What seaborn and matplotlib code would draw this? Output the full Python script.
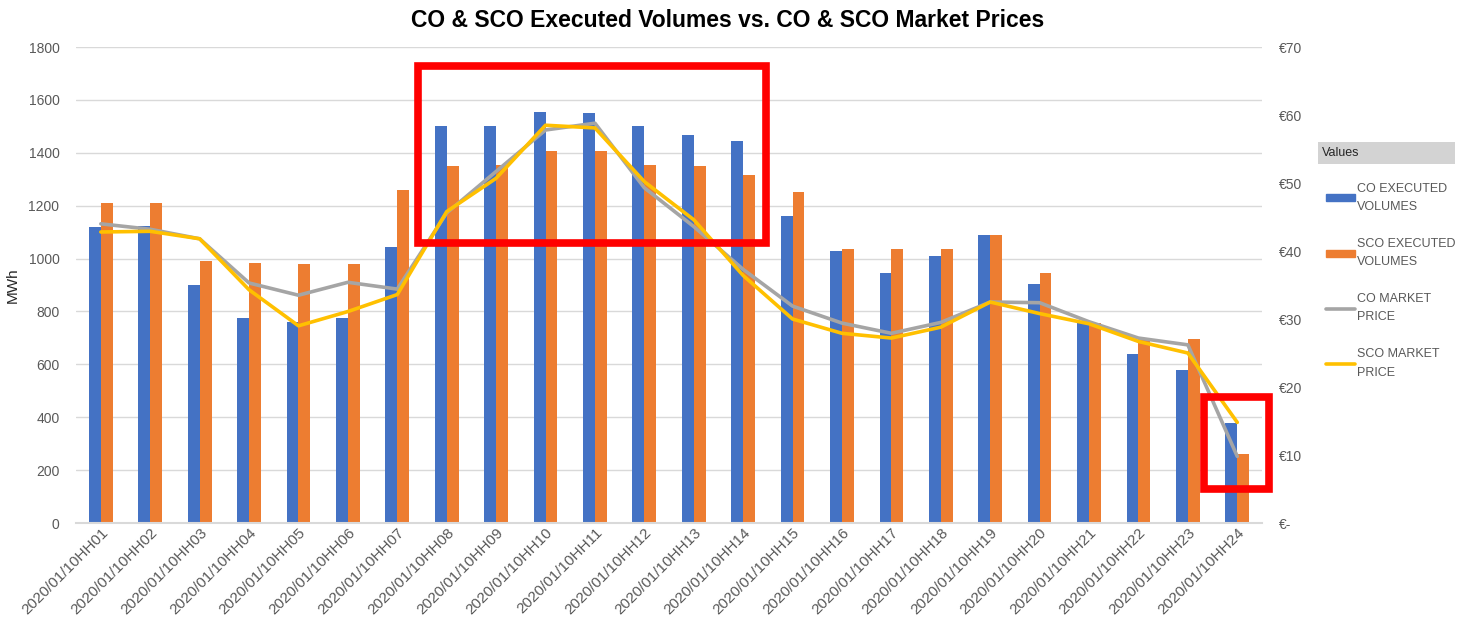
import numpy as np
import pandas as pd
import matplotlib
matplotlib.use('Agg')
import matplotlib.pyplot as plt
from matplotlib.patches import Rectangle
from matplotlib.lines import Line2D
from matplotlib.patches import Patch
import seaborn as sns

# Hours of the day (categories)
hours = [f'2020/01/10HH{h:02d}' for h in range(1, 25)]

# Executed volumes (MWh)
co_volumes = [1120, 1125, 900, 775, 760, 775, 1045, 1500, 1500, 1555, 1550, 1500,
              1468, 1445, 1160, 1028, 945, 1008, 1088, 903, 758, 640, 577, 380]
sco_volumes = [1210, 1210, 990, 985, 980, 980, 1258, 1350, 1355, 1405, 1405, 1355,
               1350, 1315, 1252, 1036, 1036, 1036, 1088, 944, 758, 695, 697, 260]

# Market prices (EUR)
co_price = [44.0, 43.2, 41.8, 35.3, 33.5, 35.4, 34.4, 45.6, 51.7, 57.8, 58.8, 49.3,
            43.6, 37.3, 31.9, 29.4, 27.9, 29.5, 32.5, 32.4, 29.6, 27.2, 26.2, 9.8]
sco_price = [42.8, 42.9, 41.8, 34.3, 29.0, 31.1, 33.6, 45.8, 50.7, 58.5, 58.1, 50.2,
             44.6, 36.4, 30.0, 27.9, 27.2, 28.8, 32.5, 30.8, 29.3, 26.7, 25.0, 14.8]

vol_df = pd.DataFrame({
    'hour': hours * 2,
    'volume': co_volumes + sco_volumes,
    'series': ['CO EXECUTED\nVOLUMES'] * 24 + ['SCO EXECUTED\nVOLUMES'] * 24,
})

sns.set_theme(style='white')
plt.rcParams['font.family'] = ['Liberation Sans', 'DejaVu Sans']

blue, orange, grey, gold = '#4472C4', '#ED7D31', '#A5A5A5', '#FFC000'
txt = '#595959'

fig = plt.figure(figsize=(14.64, 6.23), dpi=100)
ax = fig.add_axes([0.052, 0.1605, 0.81, 0.764])

sns.barplot(data=vol_df, x='hour', y='volume', hue='series', palette=[blue, orange],
            width=0.48, gap=0, saturation=1, linewidth=0, ax=ax, legend=False)
ax.set_xlim(-0.5, 23.5)
ax.set_ylim(0, 1800)
ax.set_yticks(range(0, 1801, 200))
ax.yaxis.grid(True, color='#D9D9D9', lw=1)
ax.set_axisbelow(True)
for s in ['top', 'left', 'right']:
    ax.spines[s].set_visible(False)
ax.spines['bottom'].set_color('#D9D9D9')
ax.spines['bottom'].set_linewidth(1.5)
ax.set_xlabel('')
ax.set_ylabel('MWh', fontsize=11, color='#262626', labelpad=6)
ax.tick_params(axis='y', length=0, labelsize=10, labelcolor=txt, pad=12)
ax.tick_params(axis='x', length=0, labelsize=11, labelcolor=txt, pad=2)
for lab in ax.get_xticklabels():
    lab.set_rotation(45)
    lab.set_ha('right')
    lab.set_rotation_mode('anchor')

ax2 = ax.twinx()
xs = np.arange(len(hours))
sns.lineplot(x=xs, y=co_price, color=grey, lw=2.6, ax=ax2)
sns.lineplot(x=xs, y=sco_price, color=gold, lw=2.6, ax=ax2)
ax2.set_ylim(0, 70)
ax2.set_yticks(range(0, 71, 10))
ax2.set_yticklabels(['€-'] + [f'€{v}' for v in range(10, 71, 10)])
ax2.tick_params(axis='y', length=0, labelsize=10, labelcolor=txt, pad=12)
for s in ax2.spines.values():
    s.set_visible(False)

# red highlight boxes (category index / MWh)
for (x0, x1, y0, y1) in [(6.42, 13.47, 1059, 1728), (22.33, 23.65, 129, 477)]:
    ax2.add_patch(Rectangle((x0, y0), x1 - x0, y1 - y0, transform=ax.transData,
                            fill=False, edgecolor='#FF0000', lw=5.5, zorder=10,
                            clip_on=False))

fig.suptitle('CO & SCO Executed Volumes vs. CO & SCO Market Prices',
             fontsize=16.5, fontweight='bold', x=0.497, y=0.985, color='black')

# legend with a grey "Values" header
fig.patches.append(Rectangle((0.9, 0.736), 0.094, 0.036, transform=fig.transFigure,
                             facecolor='#D3D3D3', edgecolor='none'))
fig.text(0.903, 0.754, 'Values', fontsize=9, color='#262626', va='center')
handles = [Patch(color=blue), Patch(color=orange),
           Line2D([], [], color=grey, lw=2.6), Line2D([], [], color=gold, lw=2.6)]
labels = ['CO EXECUTED\nVOLUMES', 'SCO EXECUTED\nVOLUMES', 'CO MARKET\nPRICE', 'SCO MARKET\nPRICE']
leg = fig.legend(handles, labels, loc='upper left', bbox_to_anchor=(0.898, 0.725),
                 frameon=False, fontsize=9, labelcolor=txt, handlelength=2.3,
                 handleheight=0.5, handletextpad=0.2, labelspacing=2.0)
for t in leg.get_texts():
    t.set_linespacing(1.7)

fig.savefig('out.png', dpi=100)
